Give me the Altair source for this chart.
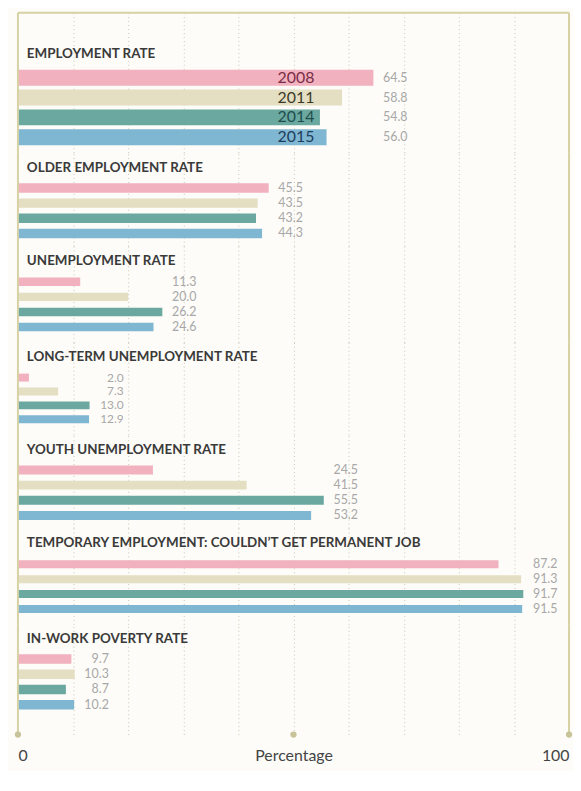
import altair as alt
import pandas as pd

# ---- data ----
groups = [
    "EMPLOYMENT RATE",
    "OLDER EMPLOYMENT RATE",
    "UNEMPLOYMENT RATE",
    "LONG-TERM UNEMPLOYMENT RATE",
    "YOUTH UNEMPLOYMENT RATE",
    "TEMPORARY EMPLOYMENT: COULDN\u2019T GET PERMANENT JOB",
    "IN-WORK POVERTY RATE",
]
years = ["2008", "2011", "2014", "2015"]
employment = [64.5, 58.8, 54.8, 56.0]
older = [45.5, 43.5, 43.2, 44.3]
unemployment = [11.3, 20.0, 26.2, 24.6]
long_term = [2.0, 7.3, 13.0, 12.9]
youth = [24.5, 41.5, 55.5, 53.2]
temporary = [87.2, 91.3, 91.7, 91.5]
in_work = [9.7, 10.3, 8.7, 10.2]
series = [employment, older, unemployment, long_term, youth, temporary, in_work]

bar_colors = ["#f2b1bf", "#e4dec3", "#6aa8a0", "#7fb6d2"]
year_text_colors = ["#7a2e45", "#3a3a28", "#1f4d4d", "#1e3d5c"]

grid_ticks = list(range(0, 101, 10))
frame_ticks = [0, 100]
dot_ticks = [0, 50, 100]
axis_title = "Percentage"

# ---- layout (pixels) ----
W = 555
TOP = 27  # empty band above the first group title
heights = [114 + TOP, 94, 97, 93, 94, 97, 111]
steps = [20, 15.3, 15.2, 14, 15.3, 15, 15.3]
thick = [16, 9.5, 8.5, 8, 9, 8, 9.5]
first_center = [38.5 + TOP, 35.5, 36, 35.5, 35.5, 36.5, 35]
title_y = [15 + TOP, 15, 15, 15, 15, 15, 15]
label_size = [12.5, 12.5, 12.5, 12, 12.5, 12.5, 12.5]

FRAME = "#d6d2a4"
DOT = "#c9c39a"
GRID = "#c9c7b4"
BG = "#fdfcf8"

frame_df = pd.DataFrame({"pos": frame_ticks})
dot_df = pd.DataFrame({"pos": dot_ticks})
xscale = alt.Scale(domain=[0, 100], nice=False, zero=True)


def band_scale(H, s, t, c0):
    """Band scale whose bands have step s and thickness t, first band centred at c0."""
    pi = 1 - t / s
    b0 = c0 - t / 2
    for kb in range(0, 8):
        for ka in range(0, 5):
            N = kb + len(years) + ka
            po = (H / s - N + pi) / 2
            if not (0 <= po <= 1):
                continue
            free = H - s * (N - pi)
            if free <= 0:
                continue
            align = (b0 - kb * s) / free
            if 0 <= align <= 1:
                dom = [" " * (j + 1) for j in range(kb)] + years + \
                      ["_" * (j + 1) for j in range(ka)]
                return alt.Scale(domain=dom, paddingInner=pi,
                                 paddingOuter=po, align=align)
    raise ValueError("no layout")


def grid_axis(last):
    common = dict(values=grid_ticks, ticks=False, grid=True, gridDash=[1, 3],
                  gridColor=GRID, gridWidth=1)
    if last:
        return alt.Axis(
            domain=False,
            labelExpr="datum.value == 0 || datum.value == 100 ? datum.label : ''",
            labelFlush=True, labelPadding=13, labelFontSize=16, labelColor="#444444",
            labelFont="Lato", title=axis_title, titleFontSize=16, titleFontWeight="normal",
            titleColor="#444444", titleFont="Lato", titleY=13, titleBaseline="top",
            **common,
        )
    return alt.Axis(labels=False, domain=False, title=None, minExtent=0,
                    maxExtent=0, offset=0, **common)


panels = []
for i, g in enumerate(groups):
    last = i == len(groups) - 1
    H = heights[i]
    ysc = band_scale(H, steps[i], thick[i], first_center[i])
    ax = grid_axis(last)
    df = pd.DataFrame({"year": years, "value": series[i],
                       "color": bar_colors, "dark": year_text_colors})
    base = alt.Chart(df)
    bars = base.mark_bar().encode(
        x=alt.X("value:Q", scale=xscale, axis=ax),
        y=alt.Y("year:N", scale=ysc, axis=None),
        color=alt.Color("color:N", scale=None),
    )
    labels = base.transform_joinaggregate(mx="max(value)").transform_calculate(
        lx="datum.mx + 6.2"
    ).mark_text(align="right", baseline="middle", fontSize=label_size[i],
                color="#a8a8a8", font="Lato").encode(
        x=alt.X("lx:Q", scale=xscale, axis=ax),
        y=alt.Y("year:N", scale=ysc, axis=None),
        text=alt.Text("value:Q", format=".1f"),
    )
    frame = alt.Chart(frame_df).mark_rule(color=FRAME, strokeWidth=2).encode(
        x=alt.X("pos:Q", scale=xscale, axis=ax)
    )
    title = alt.Chart(pd.DataFrame({"name": [g]})).mark_text(
        align="left", baseline="middle", fontSize=13.5, fontWeight="bold",
        color="#3a3a3a", font="Lato", dx=9,
    ).encode(
        x=alt.X("start:Q", scale=xscale, axis=ax),
        y=alt.value(title_y[i]),
        text="name:N",
    ).transform_calculate(start="0")
    layers = [bars, labels]
    if i == 0:
        yl = base.transform_joinaggregate(mn="min(value)").transform_calculate(
            lx="datum.mn - 1"
        ).mark_text(align="right", baseline="middle", fontSize=16, font="Lato").encode(
            x=alt.X("lx:Q", scale=xscale, axis=ax),
            y=alt.Y("year:N", scale=ysc, axis=None),
            text="year:N",
            color=alt.Color("dark:N", scale=None),
        )
        layers.append(yl)
        # top edge of the frame, from 0 to 100 on the x scale
        top_edge = alt.Chart(pd.DataFrame({"a": [frame_ticks[0]], "b": [frame_ticks[1]]})
                             ).mark_rule(color=FRAME, strokeWidth=2).encode(
            x=alt.X("a:Q", scale=xscale, axis=ax), x2="b:Q", y=alt.value(0),
        )
        layers.append(top_edge)
    layers += [frame, title]
    if last:
        dots = alt.Chart(dot_df).mark_circle(color=DOT, size=40, opacity=1).encode(
            x=alt.X("pos:Q", scale=xscale, axis=ax),
            y=alt.value(H),
        )
        layers.append(dots)
    p = alt.layer(*layers).properties(width=W, height=H)
    panels.append(p)

chart = alt.vconcat(*panels, spacing=0, bounds="flush").resolve_scale(
    x="independent", y="independent"
).properties(
    padding={"left": 6, "top": 1, "right": 0, "bottom": 5},
    background=BG,
).configure(font="Lato").configure_view(stroke=None)

chart.save("out.html", embed_options={"renderer": "svg", "actions": False})
